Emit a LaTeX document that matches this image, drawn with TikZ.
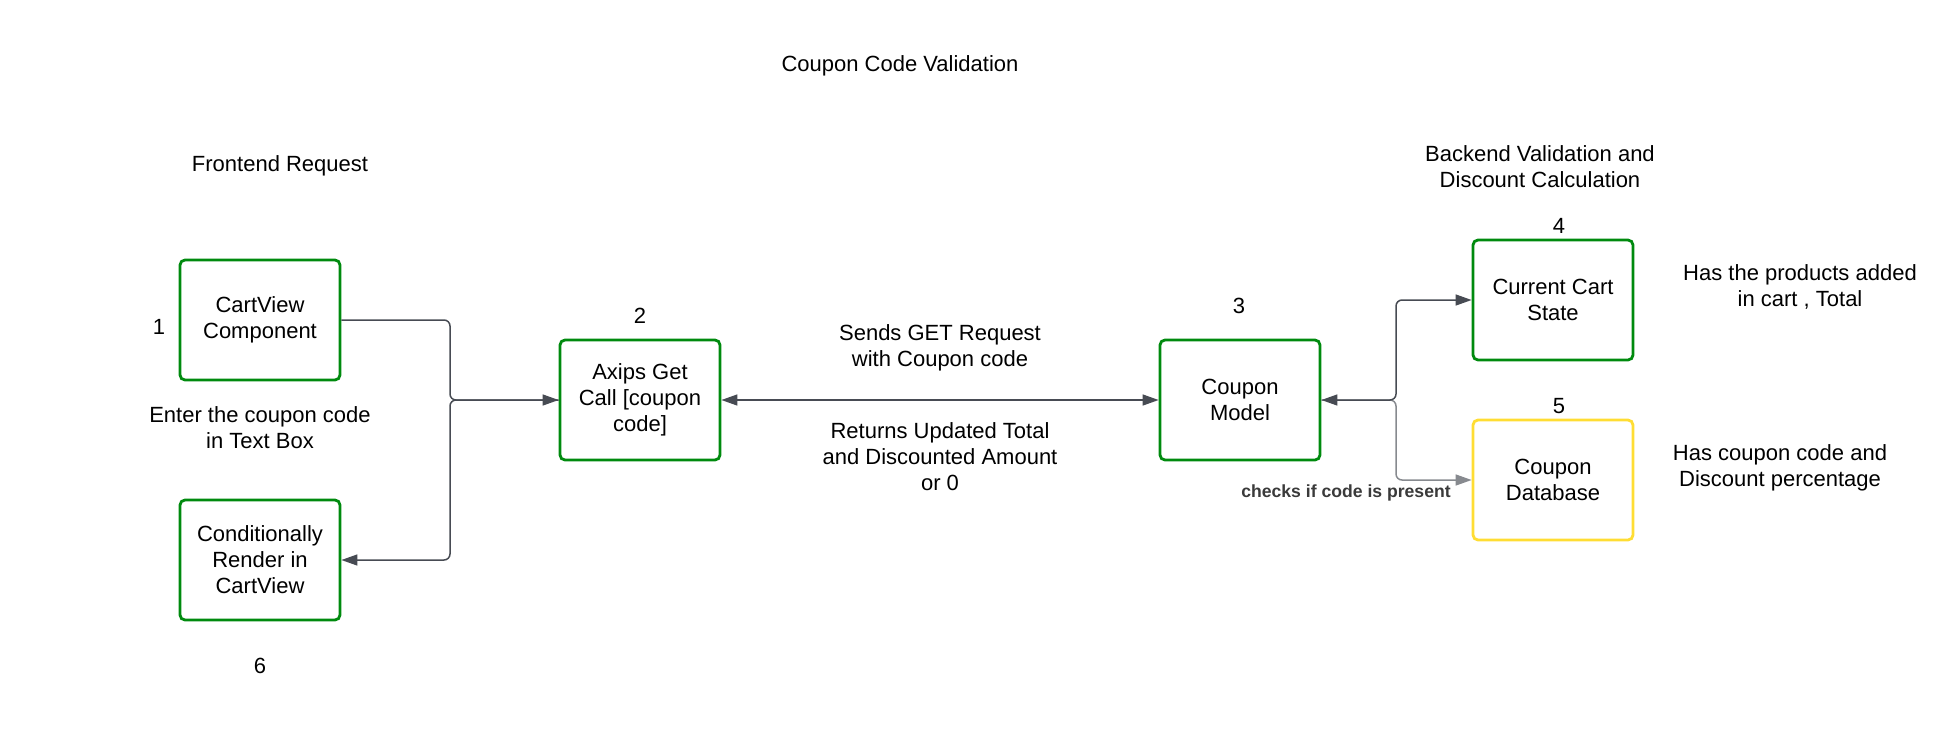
\documentclass[tikz,border=0pt]{standalone}
\usepackage{fontspec}
\setmainfont{Liberation Sans}
\usetikzlibrary{arrows.meta}

\begin{document}
\begin{tikzpicture}[x=0.5pt, y=-0.5pt,
    >={Triangle[length=8pt, width=5.5pt]},
    box/.style={draw=boxgreen, line width=1.4pt, rounded corners=2.5pt,
        minimum width=80pt, minimum height=60pt, align=center,
        font=\fontsize{11}{13}\selectfont},
    txt/.style={align=center, font=\fontsize{11}{13}\selectfont},
    conn/.style={draw=linegray, line width=0.75pt, rounded corners=3pt, ->}]
\definecolor{boxgreen}{HTML}{008A0E}
\definecolor{boxyellow}{HTML}{FFDD33}
\definecolor{linegray}{HTML}{474B53}
\definecolor{notegray}{HTML}{3A3A3A}

\useasboundingbox (0, 0) rectangle (1960, 740);

\node[txt] (title) at (900, 66) {Coupon Code Validation};
\node[txt] (front) at (280, 166) {Frontend Request};
\node[txt] (back) at (1540, 167) {Backend Validation and\\Discount Calculation};

\node[box] (cartview) at (260, 320) {CartView\\Component};
\node[box] (render) at (260, 560) {Conditionally\\Render in\\CartView};
\node[box] (axips) at (640, 400) {Axips Get\\Call [coupon\\code]};
\node[box] (model) at (1240, 400) {Coupon\\Model};
\node[box] (cartstate) at (1553, 300) {Current Cart\\State};
\node[box, draw=boxyellow] (coupondb) at (1553, 480) {Coupon\\Database};

\node[txt] (num1) at (159, 327) {1};
\node[txt] (num2) at (640, 316) {2};
\node[txt] (num3) at (1239, 306) {3};
\node[txt] (num4) at (1559, 226) {4};
\node[txt] (num5) at (1559, 406) {5};
\node[txt] (num6) at (260, 666) {6};

\node[txt] (enter) at (260, 428) {Enter the coupon code\\in Text Box};
\node[txt] (sends) at (940, 348) {Sends GET Request\\with Coupon code};
\node[txt] (returns) at (940, 457) {Returns Updated Total\\and Discounted Amount\\or 0};
\node[txt] (products) at (1800, 287) {Has the products added\\in cart , Total};
\node[txt] (discount) at (1780, 468) {Has coupon code and\\Discount percentage};
\node[text=notegray, font=\fontsize{8.8}{10}\selectfont\bfseries] (checks)
    at (1346, 493) {checks if code is present};

\coordinate (jn1) at (450, 400);
\coordinate (jn2) at (1396, 400);

\draw[conn] (cartview.east) -- (jn1 |- cartview.east) -- (jn1) -- (axips.west);
\draw[conn] (axips.west) -- (jn1) -- (jn1 |- render.east) -- (render.east);

\draw[conn, <->] (axips.east) -- (model.west);

\draw[conn, draw=linegray!65] (model.east) -- (jn2) -- (jn2 |- coupondb.west)
    -- (coupondb.west);
\draw[conn, <->] (model.east) -- (jn2) -- (jn2 |- cartstate.west) -- (cartstate.west);

\end{tikzpicture}
\end{document}
